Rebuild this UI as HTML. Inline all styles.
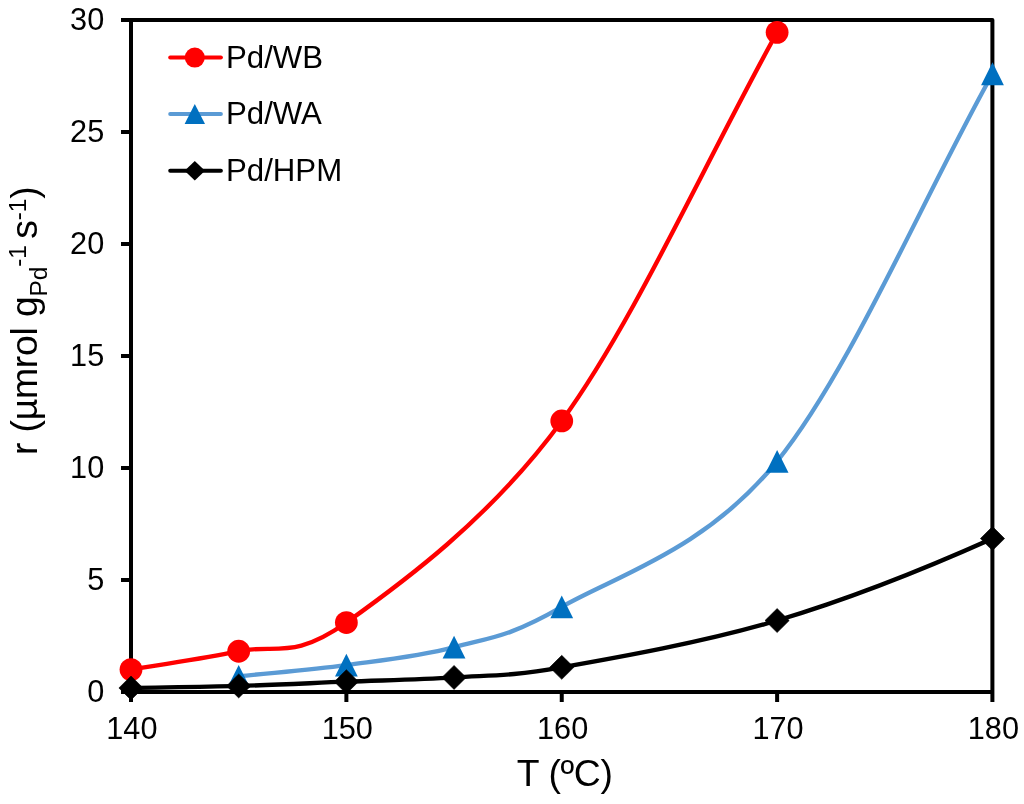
<!DOCTYPE html>
<html><head><meta charset="utf-8"><title>chart</title>
<style>
html,body{margin:0;padding:0;background:#fff;}
body{width:1024px;height:804px;overflow:hidden;font-family:"Liberation Sans",sans-serif;}
svg{display:block;will-change:transform;}
text{font-family:"Liberation Sans",sans-serif;fill:#000;}
</style></head><body>
<svg width="1024" height="804" viewBox="0 0 1024 804">
<defs><clipPath id="pc"><rect x="100" y="0" width="892.5" height="804"/></clipPath></defs>
<rect width="1024" height="804" fill="#fff"/>
<g stroke="#000" stroke-width="4" fill="none">
<path d="M121,20 H992.4 V702 M131,20 V692 M121,692 H992.4" stroke-linejoin="round"/>
<path d="M121,580.00 H131"/>
<path d="M121,468.00 H131"/>
<path d="M121,356.00 H131"/>
<path d="M121,244.00 H131"/>
<path d="M121,132.00 H131"/>
<path d="M131.00,692 V702"/>
<path d="M346.38,692 V702"/>
<path d="M561.75,692 V702"/>
<path d="M777.12,692 V702"/>
</g>
<g font-size="30.67">
<text x="104.2" y="702.00" text-anchor="end">0</text>
<text x="104.2" y="590.00" text-anchor="end">5</text>
<text x="104.2" y="478.00" text-anchor="end">10</text>
<text x="104.2" y="366.00" text-anchor="end">15</text>
<text x="104.2" y="254.00" text-anchor="end">20</text>
<text x="104.2" y="142.00" text-anchor="end">25</text>
<text x="104.2" y="30.00" text-anchor="end">30</text>
<text x="131.90" y="739" text-anchor="middle">140</text>
<text x="347.27" y="739" text-anchor="middle">150</text>
<text x="562.65" y="739" text-anchor="middle">160</text>
<text x="778.02" y="739" text-anchor="middle">170</text>
<text x="993.40" y="739" text-anchor="middle">180</text>
</g>
<!-- legend -->
<g font-size="31.2">
<path d="M170.2,57.6 H220.9" stroke="#ff0000" stroke-width="4" stroke-linecap="round"/>
<circle cx="194.8" cy="57.6" r="10" fill="#ff0000"/>
<text x="226" y="68.2">Pd/WB</text>
<path d="M170.2,114 H220.9" stroke="#5b9bd5" stroke-width="4" stroke-linecap="round"/>
<path d="M194.8,104 l10.2,20 h-20.4 z" fill="#0070c0"/>
<text x="226" y="124.4">Pd/WA</text>
<path d="M170.2,170.7 H220.9" stroke="#000" stroke-width="4" stroke-linecap="round"/>
<path d="M194.8,160.9 l10.2,9.8 l-10.2,9.8 l-10.2,-9.8 z" fill="#000"/>
<text x="226" y="181">Pd/HPM</text>
</g>
<path d="M131.00,669.60 C166.90,663.48 202.79,659.07 238.69,651.23 C274.58,643.39 292.53,660.94 346.38,622.56 C400.22,584.18 489.96,519.33 561.75,420.96 C633.54,322.59 705.33,161.87 777.12,32.32" fill="none" stroke="#ff0000" stroke-width="4.35" stroke-linecap="round"/>
<circle cx="131.00" cy="669.60" r="11.4" fill="#ff0000"/>
<circle cx="238.69" cy="651.23" r="11.4" fill="#ff0000"/>
<circle cx="346.38" cy="622.56" r="11.4" fill="#ff0000"/>
<circle cx="561.75" cy="420.96" r="11.4" fill="#ff0000"/>
<circle cx="777.12" cy="32.32" r="11.4" fill="#ff0000"/>
<path d="M238.69,676.32 C274.58,672.59 310.48,669.97 346.38,665.12 C382.27,660.27 418.17,656.91 454.06,647.20 C489.96,637.49 507.91,637.87 561.75,606.88 C615.59,575.89 705.33,550.13 777.12,461.28 C848.92,372.43 920.71,202.93 992.50,73.76" fill="none" stroke="#5b9bd5" stroke-width="4.35" stroke-linecap="round"/>
<path d="M238.69,664.92 l11.4,22.8 h-22.8 z" fill="#0070c0"/>
<path d="M346.38,653.72 l11.4,22.8 h-22.8 z" fill="#0070c0"/>
<path d="M454.06,635.80 l11.4,22.8 h-22.8 z" fill="#0070c0"/>
<path d="M561.75,595.48 l11.4,22.8 h-22.8 z" fill="#0070c0"/>
<path d="M777.12,449.88 l11.4,22.8 h-22.8 z" fill="#0070c0"/>
<path d="M992.50,62.36 l11.4,22.8 h-22.8 z" fill="#0070c0"/>
<path d="M131.00,687.97 C166.90,687.30 202.79,687.00 238.69,685.95 C274.58,684.91 310.48,683.11 346.38,681.70 C382.27,680.28 418.17,679.83 454.06,677.44 C489.96,675.05 507.91,676.84 561.75,667.36 C615.59,657.88 705.33,642.01 777.12,620.54 C848.92,599.08 920.71,570.70 992.50,538.56 C1064.29,506.42 1136.08,464.64 1207.88,427.68" fill="none" stroke="#000" stroke-width="4.35" stroke-linecap="round" clip-path="url(#pc)"/>
<path d="M131.00,675.97 l12.1,12.0 l-12.1,12.0 l-12.1,-12.0 z" fill="#000" stroke="#000" stroke-width="0.6" stroke-linejoin="round"/>
<path d="M238.69,673.95 l12.1,12.0 l-12.1,12.0 l-12.1,-12.0 z" fill="#000" stroke="#000" stroke-width="0.6" stroke-linejoin="round"/>
<path d="M346.38,669.70 l12.1,12.0 l-12.1,12.0 l-12.1,-12.0 z" fill="#000" stroke="#000" stroke-width="0.6" stroke-linejoin="round"/>
<path d="M454.06,665.44 l12.1,12.0 l-12.1,12.0 l-12.1,-12.0 z" fill="#000" stroke="#000" stroke-width="0.6" stroke-linejoin="round"/>
<path d="M561.75,655.36 l12.1,12.0 l-12.1,12.0 l-12.1,-12.0 z" fill="#000" stroke="#000" stroke-width="0.6" stroke-linejoin="round"/>
<path d="M777.12,608.54 l12.1,12.0 l-12.1,12.0 l-12.1,-12.0 z" fill="#000" stroke="#000" stroke-width="0.6" stroke-linejoin="round"/>
<path d="M992.50,526.56 l12.1,12.0 l-12.1,12.0 l-12.1,-12.0 z" fill="#000" stroke="#000" stroke-width="0.6" stroke-linejoin="round"/>
<!-- titles -->
<text x="564.6" y="785.6" font-size="37.33" text-anchor="middle" letter-spacing="-0.35">T (ºC)</text>
<text transform="translate(37.2,455) rotate(-90)" font-size="37.33" letter-spacing="-0.2">r (µmrol g<tspan font-size="24.6" dy="9.3">Pd</tspan><tspan font-size="24.6" dy="-20.3">-1 </tspan><tspan dy="11">s</tspan><tspan font-size="24.6" dy="-11">-1</tspan><tspan dy="11">)</tspan></text>
</svg>
</body></html>
